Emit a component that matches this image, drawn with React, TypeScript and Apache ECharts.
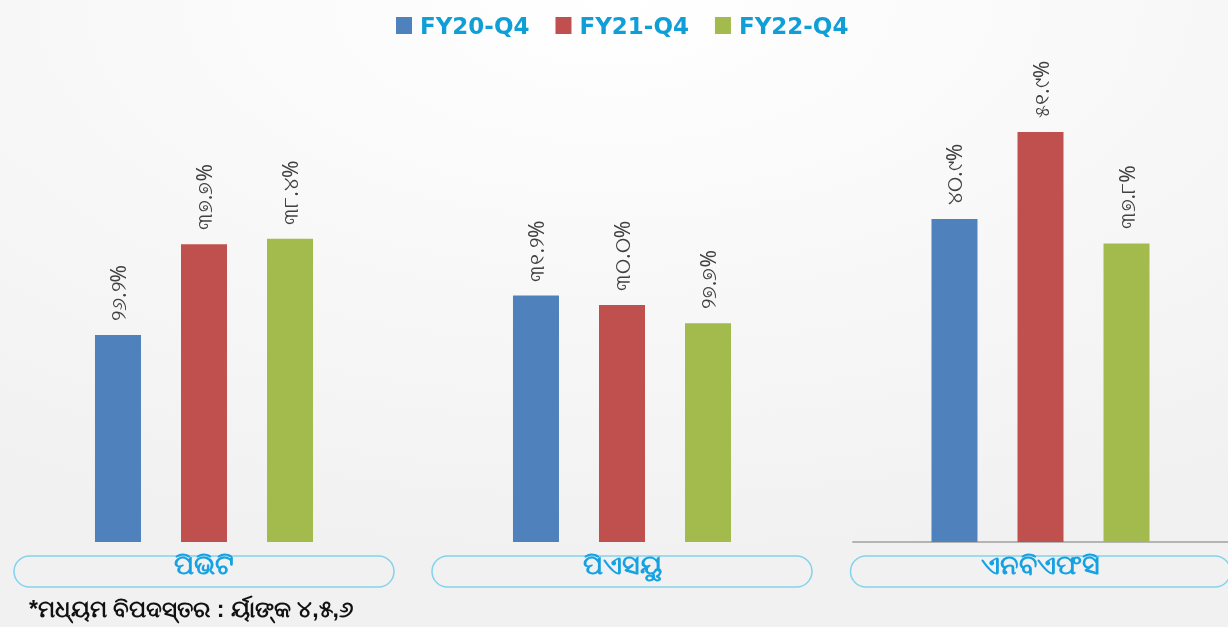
import React, { useEffect, useRef } from "react";
import * as echarts from "echarts";

const categories = ["ପିଭିଟି", "ପିଏସୟୁ", "ଏନବିଏଫସି"];
const seriesNames = ["FY20-Q4", "FY21-Q4", "FY22-Q4"];
const fy20 = [26.2, 31.2, 40.9];
const fy21 = [37.7, 30.0, 51.9];
const fy22 = [38.4, 27.7, 37.8];
const seriesValues = [fy20, fy21, fy22];
const colors = ["#4f81bd", "#c0504d", "#a3bb4c"];
const footnote = "*ମଧ୍ୟମ ବିପଦସ୍ତର : ର୍ୟାଙ୍କ ୪,୫,୬";

const toOdia = (s: string) => s.replace(/[0-9]/g, (d) => String.fromCharCode(0x0b66 + Number(d)));

const gridBoxes = [
  { left: 14, width: 380, axisLine: false },
  { left: 432, width: 380, axisLine: false },
  { left: 853, width: 375, axisLine: true },
];

export default function App() {
  const ref = useRef<HTMLDivElement>(null);
  useEffect(() => {
    if (!ref.current) return;
    const chart = echarts.init(ref.current, null, { renderer: "svg" });
    const grids = gridBoxes.map((g) => ({
      left: g.left,
      width: g.width,
      top: 68,
      bottom: 85,
      containLabel: false,
      outerBoundsMode: "none",
    }));
    const xAxes = gridBoxes.map((g, i) => ({
      type: "category",
      gridIndex: i,
      data: [categories[i]],
      axisTick: { show: false },
      axisLine: { show: g.axisLine, lineStyle: { color: "#b4b4b4", width: 2 } },
      axisLabel: {
        margin: 14,
        fontSize: 27,
        fontWeight: "bold",
        color: "#16a2e2",
        width: 380,
        height: 31,
        lineHeight: 18,
        verticalAlign: "top",
        align: "center",
        borderColor: "#84d2ec",
        borderWidth: 1.5,
        borderRadius: 16,
        padding: [0, 0, 0, 0],
        overflow: "none",
      },
    }));
    const yAxes = gridBoxes.map((_, i) => ({
      type: "value",
      gridIndex: i,
      min: 0,
      max: 60,
      show: false,
    }));
    const series: any[] = [];
    gridBoxes.forEach((_, gi) => {
      seriesNames.forEach((name, si) => {
        series.push({
          type: "bar",
          name,
          xAxisIndex: gi,
          yAxisIndex: gi,
          data: [seriesValues[si][gi]],
          barWidth: 46,
          barGap: "87%",
          itemStyle: { color: colors[si] },
          label: {
            show: true,
            position: "top",
            rotate: 90,
            align: "left",
            verticalAlign: "middle",
            distance: 14,
            fontSize: 21,
            color: "#404040",
            fontFamily: "Noto Sans, sans-serif",
            formatter: (p: any) => toOdia(Number(p.value).toFixed(1)) + "%",
          },
        });
      });
    });
    chart.setOption({
      animation: false,
      backgroundColor: new echarts.graphic.RadialGradient(0.5, 0, 0.9, [
        { offset: 0, color: "#ffffff" },
        { offset: 1, color: "#f1f1f1" },
      ]),
      legend: {
        data: seriesNames,
        left: 391,
        top: 9,
        icon: "rect",
        itemWidth: 16,
        itemHeight: 17,
        itemGap: 26,
        textStyle: {
          fontSize: 23,
          fontWeight: "bold",
          color: "#0f9fd6",
          fontFamily: "DejaVu Sans",
          padding: [0, 0, 0, 3],
        },
      },
      grid: grids,
      xAxis: xAxes,
      yAxis: yAxes,
      series,
      graphic: [
        {
          type: "text",
          left: 29,
          top: 597,
          style: {
            text: footnote,
            fontSize: 23,
            fontWeight: "bold",
            fill: "#111111",
          },
        },
      ],
    });
    return () => chart.dispose();
  }, []);
  return (
    <div
      ref={ref}
      style={{ position: "fixed", left: 0, top: 0, width: 1228, height: 627 }}
    />
  );
}
